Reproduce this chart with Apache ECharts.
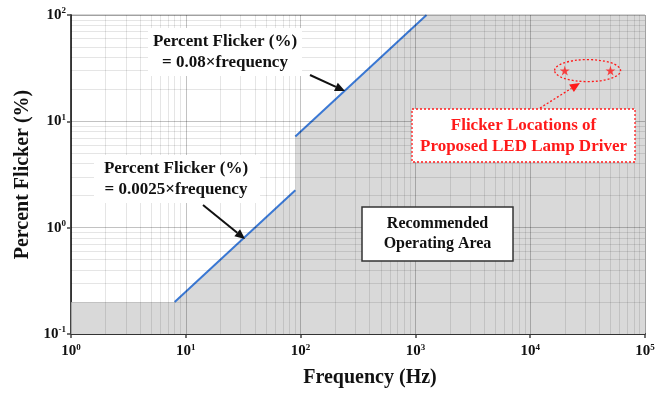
<!DOCTYPE html>
<html><head><meta charset="utf-8">
<script src="https://cdn.jsdelivr.net/npm/echarts@6/dist/echarts.min.js"></script>
<style>html,body{margin:0;padding:0;background:#fff}#c{width:671px;height:393px}</style>
</head><body><div id="c"></div>
<script>
// ---- data ----
const xRange = [1, 100000];
const yRange = [0.1, 100];
const floorFreq = [1, 8];
const floorFlicker = [0.2, 0.2];
const lowFreq = [8, 90];
const lowFlicker = [0.2, 2.25];
const highFreq = [90, 1250];
const highFlicker = [7.2, 100];
const driverFreq = [20000, 50000];
const driverFlicker = [30, 30];
const xDecades = [0, 1, 2, 3, 4, 5];
const yDecades = [-1, 0, 1, 2];
const gridMultipliers = [1, 2, 3, 4, 5, 6, 7, 8, 9];

const FONT = '"Liberation Serif", "Times New Roman", serif';

// area boundary built from the arrays
const areaData = [];
floorFreq.forEach((f, i) => areaData.push([f, floorFlicker[i]]));
lowFreq.forEach((f, i) => areaData.push([f, lowFlicker[i]]));
highFreq.forEach((f, i) => areaData.push([f, highFlicker[i]]));
areaData.push([xRange[1], yRange[1]]);

function gridValues(decs) {
  const major = [], minor = [];
  for (let i = 0; i < decs.length - 1; i++) {
    gridMultipliers.forEach(k => {
      const v = k * Math.pow(10, decs[i]);
      (k === 1 ? major : minor).push(v);
    });
  }
  major.push(Math.pow(10, decs[decs.length - 1]));
  return { major, minor };
}
const gx = gridValues(xDecades), gy = gridValues(yDecades);

function supLabel(v) {
  const e = Math.round(Math.log10(v));
  return '{b|10}{s|' + e + '}';
}
const richLbl = {
  b: { fontFamily: FONT, fontWeight: 'bold', fontSize: 15, color: '#111' },
  s: { fontFamily: FONT, fontWeight: 'bold', fontSize: 9, color: '#111', verticalAlign: 'bottom', padding: [0, 0, 8, 0] }
};

const minorStyle = { color: 'rgba(0,0,0,0.1)', width: 1, type: 'solid' };
const majorStyle = { color: 'rgba(0,0,0,0.24)', width: 1, type: 'solid' };

const starPath = 'path://M50,0 L61,35 L98,35 L68,57 L79,91 L50,70 L21,91 L32,57 L2,35 L39,35 Z';

const chart = echarts.init(document.getElementById('c'), null, { renderer: 'canvas' });
chart.setOption({
  animation: false,
  backgroundColor: '#fff',
  grid: { left: 71, right: 26, top: 15, bottom: 57, show: true, borderColor: '#aaa', borderWidth: 1 },
  xAxis: {
    type: 'log', logBase: 10, min: xRange[0], max: xRange[1],
    name: 'Frequency (Hz)', nameLocation: 'middle', nameGap: 34,
    nameTextStyle: { fontFamily: FONT, fontWeight: 'bold', fontSize: 20, color: '#111', padding: [0, 0, 0, 24] },
    axisLine: { lineStyle: { color: '#444', width: 2 } },
    axisTick: { show: true, length: 4, lineStyle: { color: '#444', width: 1.5 } },
    splitLine: { show: false },
    axisLabel: { formatter: supLabel, rich: richLbl, margin: 9 }
  },
  yAxis: {
    type: 'log', logBase: 10, min: yRange[0], max: yRange[1],
    name: 'Percent Flicker (%)', nameLocation: 'middle', nameGap: 35,
    nameTextStyle: { fontFamily: FONT, fontWeight: 'bold', fontSize: 20, color: '#111' },
    axisLine: { show: true, lineStyle: { color: '#444', width: 2 } },
    axisTick: { show: true, length: 4, lineStyle: { color: '#444', width: 1.5 } },
    splitLine: { show: false },
    axisLabel: { formatter: supLabel, rich: richLbl, margin: 5 }
  },
  series: [
    {
      type: 'line', data: areaData, symbol: 'none', z: 1,
      lineStyle: { width: 0 }, areaStyle: { color: '#d9d9d9', opacity: 1, origin: 'start' }
    },
    {
      type: 'line', data: [], symbol: 'none', z: 2, silent: true,
      markLine: {
        silent: true, symbol: 'none', label: { show: false }, animation: false,
        lineStyle: minorStyle,
        data: gx.minor.map(v => ({ xAxis: v })).concat(gy.minor.map(v => ({ yAxis: v })))
      }
    },
    {
      type: 'line', data: [], symbol: 'none', z: 2, silent: true,
      markLine: {
        silent: true, symbol: 'none', label: { show: false }, animation: false,
        lineStyle: majorStyle,
        data: gx.major.map(v => ({ xAxis: v })).concat(gy.major.map(v => ({ yAxis: v })))
      }
    },
    {
      type: 'line', data: lowFreq.map((f, i) => [f, lowFlicker[i]]), symbol: 'none', z: 4,
      lineStyle: { color: '#3a78d4', width: 2 }
    },
    {
      type: 'line', data: highFreq.map((f, i) => [f, highFlicker[i]]), symbol: 'none', z: 4,
      lineStyle: { color: '#3a78d4', width: 2 }
    },
    {
      type: 'scatter', data: driverFreq.map((f, i) => [f, driverFlicker[i]]), z: 6,
      symbol: starPath, symbolSize: 10, itemStyle: { color: '#ff1a1a' }
    }
  ]
});

// annotations
const p1 = chart.convertToPixel({ gridIndex: 0 }, [driverFreq[0], driverFlicker[0]]);
const p2 = chart.convertToPixel({ gridIndex: 0 }, [driverFreq[1], driverFlicker[1]]);
const ecx = (p1[0] + p2[0]) / 2, ecy = (p1[1] + p2[1]) / 2;
const RED = '#ff1a1a';
const txt = (x, y, t, size, color) => ({
  type: 'text', x: x, y: y, z: 100,
  style: { text: t, font: 'bold ' + size + 'px ' + FONT, fill: color || '#111', align: 'center', verticalAlign: 'middle', lineHeight: size + 4 }
});
const arrow = (x1, y1, x2, y2, color, dash) => {
  const a = Math.atan2(y2 - y1, x2 - x1), L = 10, W = 4.5;
  const bx = x2 - L * Math.cos(a), by = y2 - L * Math.sin(a);
  return [
    { type: 'line', z: 100, shape: { x1: x1, y1: y1, x2: bx, y2: by }, style: { stroke: color, lineWidth: dash ? 1.3 : 2, lineDash: dash || null } },
    { type: 'polygon', z: 100, shape: { points: [[x2, y2], [bx - W * Math.sin(a), by + W * Math.cos(a)], [bx + W * Math.sin(a), by - W * Math.cos(a)]] }, style: { fill: color } }
  ];
};
chart.setOption({
  graphic: [
    { type: 'rect', z: 99, shape: { x: 148, y: 28, width: 154, height: 48 }, style: { fill: '#fff' } },
    txt(225, 52, 'Percent Flicker (%)\n= 0.08×frequency', 17),
    ...arrow(310, 75, 345, 91, '#111'),
    { type: 'rect', z: 99, shape: { x: 94, y: 155, width: 166, height: 48 }, style: { fill: '#fff' } },
    txt(176, 179, 'Percent Flicker (%)\n= 0.0025×frequency', 17),
    ...arrow(203, 205, 245, 239, '#111'),
    { type: 'rect', z: 99, shape: { x: 362, y: 207, width: 151, height: 54 }, style: { fill: '#fff', stroke: '#333', lineWidth: 1.5 } },
    txt(437.5, 234, 'Recommended\nOperating Area', 16),
    { type: 'rect', z: 99, shape: { x: 412, y: 109, width: 223, height: 53 }, style: { fill: '#fff', stroke: RED, lineWidth: 1.3, lineDash: [2, 2] } },
    txt(523.5, 136, 'Flicker Locations of\nProposed LED Lamp Driver', 17, RED),
    { type: 'ellipse', z: 99, shape: { cx: ecx, cy: ecy, rx: 33, ry: 11 }, style: { fill: null, stroke: RED, lineWidth: 1.3, lineDash: [2, 2] } },
    ...arrow(540, 108, 580, 83, RED, [2, 2])
  ]
});
</script></body></html>
